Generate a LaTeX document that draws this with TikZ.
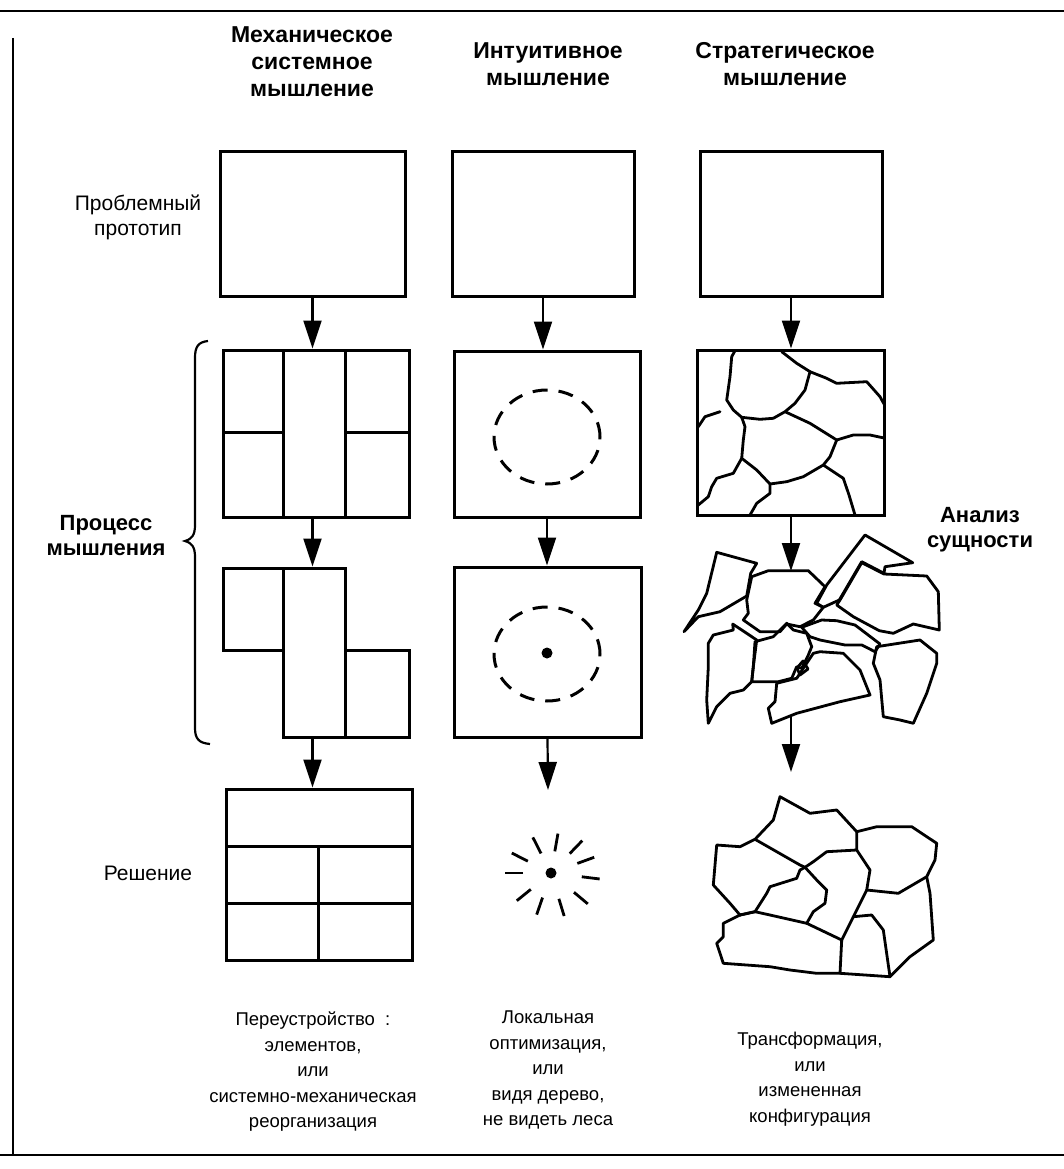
\documentclass[tikz,border=0pt]{standalone}
\usepackage{fontspec}
\setmainfont{Liberation Sans}
\usetikzlibrary{arrows.meta}

\begin{document}
\begin{tikzpicture}[x=1pt,y=-1pt,
  frame/.style={line width=2.8pt},
  box/.style={draw, line width=3pt, inner sep=0pt},
  part/.style={line width=3pt, line join=miter},
  crack/.style={line width=2.8pt, line join=round, line cap=round},
  flow/.style={line width=2.2pt, -{Triangle[width=18pt,length=28pt]}},
  dashring/.style={line width=3pt, dash pattern=on 15pt off 11pt},
  hdr/.style={align=center, inner sep=0pt, font=\bfseries\fontsize{23}{27}\selectfont},
  lbl/.style={align=center, inner sep=0pt, font=\fontsize{21}{25}\selectfont},
  blbl/.style={align=center, inner sep=0pt, font=\bfseries\fontsize{22}{25}\selectfont},
  outcome/.style={align=center, inner sep=0pt, font=\fontsize{18.5}{25.5}\selectfont},
  ray/.style={line width=2.8pt}]

\useasboundingbox (0,0) rectangle (1064,1169);

% page frame
\draw[frame] (0,11) -- (1064,11);
\draw[frame] (13,38) -- (13,1155);
\draw[frame] (0,1155) -- (1064,1155);

% column headings
\node[hdr] (h1) at (312,62) {Механическое\\системное\\мышление};
\node[hdr] (h2) at (548,64) {Интуитивное\\мышление};
\node[hdr] (h3) at (785,64) {Стратегическое\\мышление};

% row labels
\node[lbl] (l1) at (138,217) {Проблемный\\прототип};
\node[blbl] (l2) at (106,536) {Процесс\\мышления};
\node[lbl] (l3) at (148,873) {Решение};
\node[blbl] (l4) at (980,530) {Анализ\\сущности};

% brace grouping the thinking process rows
\draw[line width=2.2pt] (208,341) .. controls (198,342) and (195,347) .. (195,358)
  -- (195,525) .. controls (195,535) and (192,539) .. (185,541)
  .. controls (192,543) and (195,547) .. (195,557)
  -- (195,728) .. controls (195,739) and (199,743) .. (210,744);

% ---------- mechanical column ----------
\node[box, minimum width=185pt, minimum height=144pt] (p11) at (312.5,224) {};
\node[box, minimum width=186pt, minimum height=167pt] (p12) at (316,433.5) {};
\draw[part] (283,350) -- (283,517);
\draw[part] (345,350) -- (345,517);
\draw[part] (223,432) -- (283,432);
\draw[part] (345,432) -- (409,432);
\draw[part] (223,568) rectangle (283,650);
\node[box, minimum width=62pt, minimum height=169pt] (p13) at (314,652.5) {};
\draw[part] (345,650) rectangle (409,737);
\node[box, minimum width=186pt, minimum height=171pt] (p14) at (319,874.5) {};
\draw[part] (226,846) -- (412,846);
\draw[part] (226,903) -- (412,903);
\draw[part] (318,846) -- (318,960);

\draw[flow] (p11.south) -- (p11.south |- p12.north);
\draw[flow] (p12.south -| p11.south) -- (p13.north -| p11.south);
\draw[flow] (p13.south -| p11.south) -- (p14.north -| p11.south);

% ---------- intuitive column ----------
\node[box, minimum width=182pt, minimum height=144pt] (p21) at (543,224) {};
\node[box, minimum width=186pt, minimum height=166pt] (p22) at (547,434) {};
\draw[dashring] (547,437) ellipse [x radius=53pt, y radius=47pt];
\node[box, minimum width=187pt, minimum height=170pt] (p23) at (547.5,652) {};
\draw[dashring] (547,654) ellipse [x radius=53pt, y radius=47pt];
\fill (547,653) circle (5.5pt);

% spark of the local solution
\node[circle, fill, inner sep=0pt, minimum size=11pt] (sun) at (551,873) {};
\foreach \a/\m in {-180/37,-153/35,-117/31,-80/31,-46/36,-20/37,7/40,40/39,73/36,109/35,141/35}
  \draw[ray, shift={(sun.center)}] (\a:{\m-9}) -- (\a:{\m+9});
\coordinate (s2) at (548,790);

\draw[flow] (p21.south) -- (p21.south |- p22.north);
\draw[flow] (p22.south) -- (p22.south |- p23.north);
\draw[flow] (p23.south) -- (s2);

% ---------- strategic column ----------
\node[box, minimum width=182pt, minimum height=144pt] (p31) at (791,224) {};
\node[box, minimum width=187pt, minimum height=165pt] (p32) at (790.5,432.5) {};

% cracks across the whole
\draw[crack] (735,350.7) -- (731.7,356.7) -- (730,376.7) -- (726.7,400) -- (733.3,410) -- (741.7,417.3)
  -- (760,419.3) -- (773.3,418.3) -- (785,411.7) -- (795,403.3) -- (805,390) -- (810,371.7)
  -- (796.7,363.3) -- (781.7,351.7);
\draw[crack] (810,371.7) -- (826.7,378.3) -- (836.7,383.3) -- (866.7,381.7) -- (880,396.7) -- (884,404);
\draw[crack] (785,411.7) -- (810,423.3) -- (836.7,440) -- (853.3,435) -- (870,435) -- (884,438);
\draw[crack] (836.7,440) -- (830,456.7) -- (823.3,465) -- (803.3,476.7) -- (786.7,481.7) -- (770,484)
  -- (756.7,470) -- (741.7,458.3) -- (743.3,440) -- (745,426.7) -- (741.7,417.3);
\draw[crack] (823.3,465) -- (843.3,478.3) -- (849,495) -- (855,515);
\draw[crack] (770,484) -- (770,493.3) -- (756.7,503.3) -- (750,515);
\draw[crack] (741.7,458.3) -- (733.3,473.3) -- (716.7,478.3) -- (711.7,486.7) -- (708.3,496.7) -- (698.3,505);
\draw[crack] (698.3,426.7) -- (705,416.7) -- (720,411.7);

% the whole broken into drifting fragments
\coordinate (f2top) at (791,571);
\draw[crack] (716.7,552.3) -- (756.7,563.3) -- (750.7,573.3) -- (746.7,596) -- (720,611.7) -- (698.3,616.7)
  -- (684,631.7) -- (698.3,610) -- (706.7,593.3) -- cycle;
\draw[crack] (751.7,576.7) -- (768.3,570.7) -- (808.3,570.7) -- (825,586.7) -- (815,603.3) -- (823.3,607.3)
  -- (813.3,620) -- (800,626.7) -- (786.7,624) -- (780,631.7) -- (760,631.7) -- (743.3,620)
  -- (748.3,613.3) -- (746.7,600) -- cycle;
\draw[crack] (816.7,603.3) -- (826.7,585) -- (865,535) -- (912.7,562.7) -- (885,566.7) -- (884,573.3)
  -- (861.7,561.7) -- (839.3,600) -- (823.3,607.3) -- cycle;
\draw[crack] (861.7,562.7) -- (884,574) -- (926.7,576) -- (938.3,591.7) -- (939.3,630) -- (913.3,624)
  -- (893.3,633.3) -- (879.3,630.7) -- (853.3,616.7) -- (836.7,605) -- (840,600) -- cycle;
\draw[crack] (801.7,627.3) -- (821.7,620) -- (836.7,620.7) -- (855,625) -- (880,644) -- (875,651.7)
  -- (861.7,645) -- (845,645) -- (820,640) -- (810,636.7) -- cycle;
\draw[crack] (755,641.7) -- (773.3,636.7) -- (786.7,623.3) -- (793.3,630) -- (806.7,633.3) -- (811.7,646.7)
  -- (808.3,655) -- (801.7,668.3) -- (796.7,666.7) -- (791.7,678.3) -- (778.3,681.7) -- (751.7,681.7)
  -- (753.3,666.7) -- cycle;
\draw[crack] (708.3,643.3) -- (713.3,635) -- (733.3,630) -- (732.7,624) -- (746.7,633.3) -- (756.7,640)
  -- (753.3,666.7) -- (751.7,681.7) -- (743.3,690) -- (730,693.3) -- (716.7,706.7) -- (708.3,723.3)
  -- (706.7,700) -- (708.3,666.7) -- cycle;
\draw[crack] (776.7,683.3) -- (796.7,678.3) -- (813.3,653.3) -- (820,651.7) -- (843.3,653.3) -- (860,670)
  -- (870,695) -- (840,701.7) -- (796.7,713.3) -- (771.7,723.3) -- (768.3,708.3) -- (775,701.7) -- cycle;
\draw[crack] (876.7,646.7) -- (920,640) -- (936.7,653.3) -- (936.7,663.3) -- (926.7,693.3) -- (913.3,723.3)
  -- (900,720) -- (883.3,716.7) -- (880,680) -- (873.3,663.3) -- (875,655) -- cycle;
\draw[crack] (797,668) -- (803,661) -- (808,669) -- (800,675) -- cycle;

\coordinate (f8bot) at (791,716);
\coordinate (f9end) at (791,772);

% the new configuration
\draw[crack] (780,796.7) -- (810,813.3) -- (836.7,810) -- (856.7,831.7) -- (876.7,826.7) -- (911.7,826.7)
  -- (936.7,843.3) -- (935,860) -- (926.7,876.7) -- (930,893.3) -- (933.3,940) -- (910,956.7)
  -- (890,976.7) -- (840,973.3) -- (816.7,973.3) -- (790,970) -- (770,966.7) -- (723.3,963.3)
  -- (716.7,943.3) -- (723.3,936.7) -- (723.3,923.3) -- (740,915) -- (730,903.3) -- (713.3,885)
  -- (716.7,845) -- (740,846.7) -- (755,839.3) -- (773.3,820) -- cycle;
\draw[crack] (755,839.3) -- (776.7,851.7) -- (800,865) -- (805,867.3);
\draw[crack] (805,867.3) -- (813.3,861.7) -- (826.7,851.7) -- (856.7,850) -- (856.7,831.7);
\draw[crack] (856.7,850) -- (870,870) -- (866.7,890) -- (898.3,893.3) -- (926.7,876.7);
\draw[crack] (866.7,890) -- (856.7,910) -- (841.7,940);
\draw[crack] (805,867.3) -- (800,870) -- (796.7,878.3) -- (770,886.7) -- (766.7,893.3) -- (755,911.7) -- (740,915);
\draw[crack] (805,867.3) -- (816.7,880) -- (826.7,890) -- (825,903.3) -- (813.3,911.7) -- (806.7,923.3);
\draw[crack] (740,915) -- (755,911.7) -- (770,915) -- (806.7,923.3) -- (841.7,940);
\draw[crack] (841.7,940) -- (840,973.3);
\draw[crack] (853.3,916.7) -- (871.7,915) -- (883.3,930) -- (890,976.7);

\draw[flow] (p31.south) -- (p31.south |- p32.north);
\draw[flow] (p32.south -| p31.south) -- (f2top);
\draw[flow] (f8bot) -- (f9end);

% outcome captions
\node[outcome] (c1) at (313,1072) {Переустройство\ \ :\\элементов,\\или\\системно-механическая\\реорганизация};
\node[outcome] (c2) at (548,1070) {Локальная\\оптимизация,\\или\\видя дерево,\\не видеть леса};
\node[outcome] (c3) at (810,1079) {Трансформация,\\или\\измененная\\конфигурация};

\end{tikzpicture}
\end{document}
